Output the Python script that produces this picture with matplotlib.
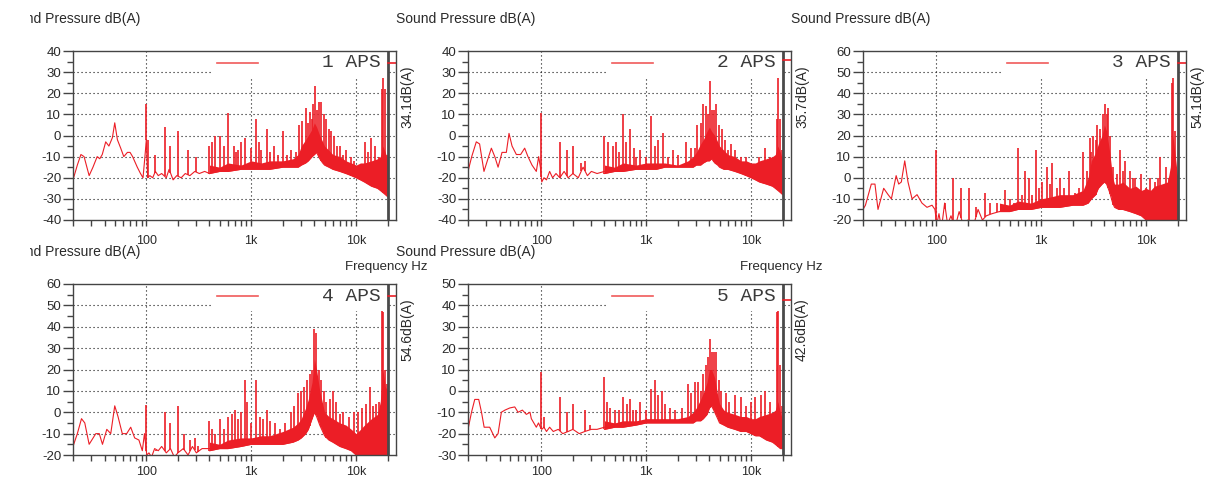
import numpy as np
import matplotlib
matplotlib.use("Agg")
import matplotlib.pyplot as plt
from matplotlib.patches import Rectangle

plt.rcParams['font.family'] = ['Liberation Sans', 'DejaVu Sans']
plt.rcParams['axes.unicode_minus'] = False

W, H = 1215, 479
RED = '#EC1E26'
TXT = '#2A2A2A'

# shared frequency grid for the dense band (lower / upper envelope)
band_f = [400, 500, 600, 800, 1000, 1250, 1500, 2000, 2500, 2800, 3000, 3300, 3500,
          3800, 4000, 4200, 4500, 4800, 5000, 5500, 6000, 7000, 8000, 9000, 10000,
          11000, 12000, 14000, 16000, 17000, 18000, 19000, 20000]

# ---- panel 1 ----
p1_low_f = [20, 22, 23.8, 25.5, 28.5, 31, 34, 36, 38, 40, 41, 44, 47.5, 50, 53, 57, 61,
            66, 70, 74, 82, 88, 93, 97, 100, 103, 108, 115, 122, 130, 140, 155, 165,
            180, 195, 215, 235, 260, 290, 320, 360, 400]
p1_low_db = [-21, -14, -9, -10, -19, -15, -10, -11, -9, -5, -3, -5, -1, 6, -2, -6, -10,
             -8, -8, -10, -15, -18, -20, -10, -2, -20, -19, -20, -17, -19, -18, -20, -16,
             -21, -19, -20, -18, -19, -17, -18, -17, -18]
p1_floor = [-18, -17, -17, -16, -16, -16, -16, -15, -15, -15, -14, -13, -12,
            -10, -9, -8, -11, -13, -14, -15, -16, -17, -18, -19, -20,
            -21, -22, -24, -25, -26, -27, -28, -29]
p1_top = [-14, -15, -13, -14, -12, -13, -12, -12, -11, -9, -5, -2, 0,
          3, 6, 4, 0, -3, -5, -7, -9, -10, -12, -13, -14,
          -13, -13, -12, -11, -10, -5, -8, -12]
p1_spikes = [(100, 15), (103, -2), (120, -9), (150, 4), (170, -5), (200, 2), (250, -7),
             (300, -10), (400, -5), (420, -3), (450, 0), (500, 0), (550, -5), (600, 10.5),
             (680, -5), (720, -8), (750, -7), (800, -3), (880, -1), (1000, -6), (1100, 8),
             (1180, -3), (1250, -7), (1400, 3), (1500, -8), (1650, -5), (1800, -9),
             (2000, 2), (2200, -9), (2400, -7), (2650, -8), (2850, 5), (3050, 7),
             (3300, 13), (3500, 6), (3650, 11), (3800, 8), (3900, 15), (4100, 23.5),
             (4250, 12), (4400, 16), (4650, 16), (4900, 10), (5200, 8), (5500, 3),
             (5800, 2), (6100, 0), (6600, -5), (7000, -5), (7500, -9), (8000, -7),
             (9000, -10), (9500, -12), (11000, -15), (12200, -3), (13000, -8),
             (13800, -1), (15000, -5), (16500, -10), (17500, 22), (18000, 28),
             (18700, 22), (19500, -9)]

# ---- panel 2 ----
p2_low_f = [20, 21.7, 24, 25.8, 28.4, 31, 33.4, 36, 38.7, 42.2, 46.4, 49.2, 52.6, 57.8,
            63.5, 69.4, 74.6, 81.5, 89.6, 94.3, 98, 101, 106, 112, 120, 128, 138, 150,
            165, 180, 200, 225, 250, 275, 300, 340, 400]
p2_low_db = [-17, -10, -3, -4, -17, -11, -6, -10, -15, -8, -8, 1, -5, -9,
             -9, -6, -10, -14, -17, -10, -15, -22, -20, -21, -17, -20, -18, -20,
             -17, -20, -18, -20, -15, -19, -17, -18, -17]
p2_floor = [-18, -17, -17, -16, -16, -16, -15, -15, -15, -15, -14, -14, -13,
            -12, -12, -11, -13, -14, -15, -16, -16, -17, -18, -19, -20,
            -21, -22, -23, -24, -25, -26, -27, -28]
p2_top = [-14, -15, -13, -14, -13, -13, -13, -14, -12, -10, -8, -4, -2,
          2, 4, 2, 0, -3, -5, -7, -9, -10, -12, -12, -13,
          -13, -12, -11, -10, -9, -5, -8, -12]
p2_spikes = [(100, 10.5), (150, -3), (175, -7), (200, -5), (240, -13), (260, -12),
             (400, 0), (430, -3), (480, -5), (520, -3), (550, -8), (600, 10), (640, -3),
             (700, 3), (760, -6), (800, -10), (880, -7), (1000, -10), (1100, 9),
             (1200, -5), (1300, -2), (1450, 1), (1600, -10), (1800, -7), (2000, -9),
             (2400, -3), (2700, -6), (2900, -6), (3050, 5), (3300, 6), (3500, 15),
             (3700, 14), (3900, 10), (4100, 26), (4250, 12), (4400, 12), (4600, 15),
             (4900, 5), (5300, 3), (5600, -2), (6000, -7), (6500, -4), (7000, -7),
             (8000, -10), (9000, -10), (10500, -14), (12000, -10), (13500, -6),
             (15000, -10), (17500, 8), (18000, 28), (18700, 8), (19500, -7)]

# ---- panel 3 ----
p3_low_f = [20, 21.1, 24, 26, 27.8, 31.5, 34.7, 37.3, 41.4, 43.8, 46.4, 50, 53.7, 58.7,
            65.5, 73, 81.5, 91, 97, 101, 106, 112, 120, 128, 138, 150, 165, 180, 200,
            225, 250, 275, 300, 340, 400]
p3_low_db = [-15, -13, -3, -3, -15, -5, -8, -10, 1, -3, -2, 8, -2, -10,
             -8, -12, -14, -13, -15, -22, -17, -24, -12, -22, -18, -24, -16, -22, -20,
             -23, -15, -20, -18, -17, -16]
p3_floor = [-16, -16, -15, -15, -14, -14, -14, -13, -13, -12, -10, -8, -5,
            -3, -2, -3, -7, -12, -14, -15, -15, -16, -17, -18, -20,
            -21, -21, -22, -22, -22, -22, -22, -22]
p3_top = [-12, -13, -11, -12, -10, -9, -8, -8, -6, 0, 8, 12, 16,
          20, 25, 22, 12, 0, -3, -3, -2, -5, -4, -6, -5,
          -6, -4, -3, -2, 5, 20, 10, 0]
p3_spikes = [(100, 13), (122, -12), (143, 0), (172, -5), (203, -5), (238, -14), (293, -7),
             (326, -12), (378, -12), (453, -6), (500, -10), (550, -12), (598, 14),
             (650, -8), (695, 3), (757, 0), (820, -8), (889, 13), (950, -5), (1010, -2),
             (1130, 5), (1200, -3), (1280, 7), (1400, -5), (1520, 0), (1650, -5),
             (1830, 3), (2110, -7), (2300, -5), (2480, 12), (2720, 3), (2890, 19),
             (3000, 12), (3150, 20), (3300, 18), (3400, 25), (3660, 23), (3870, 30),
             (4070, 35), (4200, 30), (4320, 33), (4540, 20), (4880, 5), (5260, 2),
             (5650, 13), (6000, 3), (6320, 8), (7070, 3), (7500, 0), (7910, 0),
             (8850, 2), (9900, -5), (11000, 0), (12200, -2), (13000, 0), (13700, 10),
             (15400, 5), (16500, 0), (17500, 45), (18200, 48), (18900, 22)]

# ---- panel 4 ----
p4_low_f = [20, 22, 24.1, 25.9, 28.5, 33, 35.6, 38.2, 42, 45.8, 50, 53.7, 59, 65, 71,
            77.4, 85, 91.6, 96, 101, 106, 112, 120, 130, 140, 155, 170, 185, 200, 225,
            250, 275, 300, 340, 400]
p4_low_db = [-16, -10, -3, -5, -15, -10, -10, -15, -8, -10, 3, -2, -10, -10, -7,
             -12, -13, -18, -10, -20, -19, -21, -17, -18, -16, -19, -17, -21, -19, -17,
             -20, -16, -19, -17, -17]
p4_floor = [-18, -17, -17, -16, -15, -15, -15, -15, -14, -13, -12, -10, -8,
            -3, 0, -2, -6, -9, -11, -13, -14, -16, -17, -18, -20,
            -22, -22, -22, -22, -22, -22, -22, -22]
p4_top = [-14, -15, -13, -12, -12, -11, -11, -9, -7, -5, -3, 2, 6,
          14, 25, 20, 10, 4, 0, -2, -3, -5, -6, -8, -10,
          -8, -6, -3, -1, 5, 20, 12, 10]
p4_spikes = [(100, 3.5), (125, -18), (150, 0), (170, -5), (200, 3), (230, -10), (260, -13),
             (290, -12), (310, -16), (400, -4), (420, -8), (450, -10), (500, -3),
             (550, -8), (600, -2), (650, -1), (700, 1), (750, -3), (800, 0), (880, 15),
             (920, 5), (1000, -5), (1100, 15), (1200, -2), (1300, -3), (1400, 1),
             (1500, -4), (1700, -5), (1900, -8), (2100, -5), (2400, 0), (2550, 3),
             (2800, 9), (3000, 10), (3200, 12), (3400, 15), (3600, 18), (3800, 20),
             (4000, 39), (4150, 37), (4400, 20), (4600, 15), (4900, 10), (5200, 5),
             (5600, 6), (6000, 10), (6500, 5), (7000, -1), (7500, 0), (8500, -2),
             (9500, 0), (10500, 0), (11500, 2), (12500, 4), (13500, 12), (14500, 3),
             (15500, 4), (16500, 5), (17500, 48), (18200, 47), (18800, 20), (19500, 13)]

# ---- panel 5 ----
p5_low_f = [20, 21.6, 23.2, 25.3, 26.9, 28.5, 32.2, 36, 38.7, 41.6, 45, 50, 55.8, 60, 66,
            72, 78, 80.3, 89.6, 94, 98, 101, 106, 112, 120, 130, 145, 160, 180, 200, 230,
            260, 300, 340, 400]
p5_low_db = [-18, -10, -4, -4, -10, -17, -17, -22, -20, -10, -9, -8, -7.5, -10, -9,
             -11, -10, -13, -17, -15, -17, -18, -17, -19, -17, -19, -18, -20, -19, -18, -20,
             -19, -18, -18, -17]
p5_floor = [-18, -17, -17, -16, -15, -15, -15, -15, -15, -15, -14, -14, -13,
            -11, -8, -7, -10, -13, -15, -16, -17, -18, -19, -19, -20,
            -21, -21, -23, -24, -25, -26, -27, -27]
p5_top = [-14, -15, -14, -14, -13, -13, -13, -13, -12, -10, -8, -4, -1,
          4, 10, 10, 6, -2, -6, -9, -10, -11, -12, -12, -13,
          -13, -12, -11, -10, -9, -5, -10, -14]
p5_spikes = [(100, 9), (105, -12), (150, -3), (175, -10), (200, -6), (260, -9), (290, -16),
             (400, 6.5), (420, -5), (450, -8), (500, -9), (550, -9), (600, -3), (650, -6),
             (700, -4), (750, -9), (800, -9), (880, -5), (1000, -9), (1100, 1), (1200, 5),
             (1300, -2), (1400, 0), (1500, -6), (1700, -8), (1900, -9), (2200, -8),
             (2500, 3), (2700, -1), (2900, 4), (3100, 4), (3300, 0), (3500, 8), (3700, 12),
             (3900, 16), (4050, 24.5), (4200, 18), (4400, 18), (4600, 18), (4900, 5),
             (5200, 0), (5700, -1), (6200, -5), (7000, -2), (8000, -3), (9000, -7),
             (10000, -5), (11000, -3), (12500, -2), (13500, 0), (15000, -5), (17500, 37),
             (18200, 38), (18800, 12), (19500, -7)]

names = ['1 APS', '2 APS', '3 APS', '4 APS', '5 APS']
totals = [34.1, 35.7, 54.1, 54.6, 42.6]
ylims = [(-40, 40), (-40, 40), (-20, 60), (-20, 60), (-30, 50)]


def px_axes(fig, left, top, right, bottom):
    return fig.add_axes([left / W, 1 - bottom / H, (right - left) / W, (bottom - top) / H])


def draw_panel(fig, box, low_f, low_db, floor, top, spikes, ylim, name, total,
               freq_label, xpad):
    left, top_px, right, bottom = box
    ax = px_axes(fig, left, top_px, right, bottom)
    ax.set_xscale('log')
    ax.set_xlim(20, 24000)
    ax.set_ylim(*ylim)

    # thin low-frequency trace
    ax.plot(low_f, low_db, color=RED, lw=0.8, zorder=2)
    # dense band
    ax.fill_between(band_f, floor, top, color=RED, lw=0, zorder=2)
    ax.plot(band_f, floor, color=RED, lw=0.8, zorder=2)
    # spikes start on the trace below them
    all_f = np.array(low_f[:-1] + band_f, dtype=float)
    all_db = np.array(low_db[:-1] + floor, dtype=float)
    sf = np.array([s[0] for s in spikes], dtype=float)
    sd = np.array([s[1] for s in spikes], dtype=float)
    base = np.interp(np.log10(sf), np.log10(all_f), all_db)
    ax.vlines(sf, base, sd, color=RED, lw=1.2, zorder=2)

    # grid
    for v in [100, 1000, 10000]:
        ax.axvline(v, color='#111111', lw=0.8, ls=(0, (1, 2.6)), zorder=1)
    for v in range(ylim[0] + 10, ylim[1], 10):
        ax.axhline(v, color='#111111', lw=0.8, ls=(0, (1, 2.6)), zorder=1)

    # ticks
    ax.set_xticks([100, 1000, 10000], ['100', '1k', '10k'])
    minor = [m * d for d in (10, 100, 1000) for m in range(2, 10)] + [20000]
    ax.set_xticks(minor, minor=True)
    ax.set_xticklabels([], minor=True)
    ax.set_yticks(np.arange(ylim[0], ylim[1] + 1, 10))
    ax.set_yticks(np.arange(ylim[0], ylim[1] + 1, 5), minor=True)
    ax.tick_params(axis='both', which='both', direction='out', colors='#444444',
                   labelcolor=TXT, labelsize=9, width=1)
    ax.tick_params(axis='y', which='major', length=7, pad=1.5, labelsize=9.5)
    ax.tick_params(axis='y', which='minor', length=4)
    ax.tick_params(axis='x', which='both', length=4, pad=xpad)
    for s in ax.spines.values():
        s.set_color('#444444')
        s.set_linewidth(1.0)
        s.set_zorder(6)

    # legend box
    ax.add_patch(Rectangle((0.43, 0.84), 0.545, 0.16, transform=ax.transAxes,
                           facecolor='white', edgecolor='none', zorder=3))
    ax.plot([0.446, 0.573], [0.929, 0.929], transform=ax.transAxes,
            color='#F05A5A', lw=1.2, zorder=4)
    ax.text(0.952, 0.929, name, transform=ax.transAxes, ha='right', va='center',
            family='Liberation Mono', fontsize=14, color='#3A3A3A', zorder=4)

    # 20 kHz limit and overall level
    ax.axvline(20000, color='#4A4A4A', lw=2, zorder=5)
    ax.plot([20000, 24000], [total, total], color=RED, lw=1.2, zorder=5)
    ax.text(1 + 4 / (right - left), 0.917, f'{total:.1f}dB(A)', transform=ax.transAxes,
            rotation=90, ha='left', va='top', fontsize=10, color=TXT)

    # heading texts
    fig.text((left - 72) / W, 1 - (top_px - 32) / H, 'Sound Pressure dB(A)',
             ha='left', va='center', fontsize=10, color=TXT)
    if freq_label:
        fig.text((left + 272) / W, 1 - (bottom + 47) / H, 'Frequency Hz',
                 ha='left', va='center', fontsize=9.5, color=TXT)
    return ax


fig = plt.figure(figsize=(W / 100, H / 100), dpi=100)

boxes = [(73, 51, 396, 220), (468, 51, 791, 220), (863, 51, 1186, 220),
         (73, 284, 396, 455), (468, 284, 791, 455)]
data = [(p1_low_f, p1_low_db, p1_floor, p1_top, p1_spikes),
        (p2_low_f, p2_low_db, p2_floor, p2_top, p2_spikes),
        (p3_low_f, p3_low_db, p3_floor, p3_top, p3_spikes),
        (p4_low_f, p4_low_db, p4_floor, p4_top, p4_spikes),
        (p5_low_f, p5_low_db, p5_floor, p5_top, p5_spikes)]

for i in range(5):
    lf, ld, fl, tp, sp = data[i]
    draw_panel(fig, boxes[i], lf, ld, fl, tp, sp, ylims[i], names[i], totals[i],
               i in (0, 1), 6.5 if i < 3 else 4)

# the left edge of the screenshot is cut off
fig.patches.append(Rectangle((0, 0), 30 / W, 1, transform=fig.transFigure,
                             facecolor='white', edgecolor='none', zorder=10))

fig.savefig('out.png', dpi=100)
